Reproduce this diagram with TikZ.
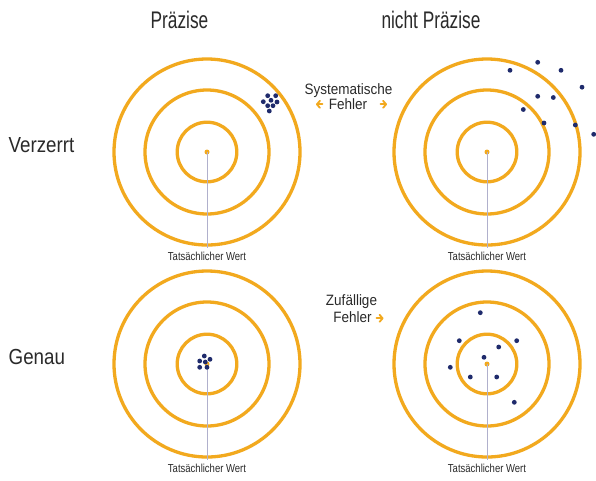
\documentclass[tikz,border=0pt]{standalone}
\usepackage{fontspec}
\setmainfont{Liberation Sans}
\newfontfamily\headfont{Liberation Sans}[FakeStretch=0.72]
\newfontfamily\sidefont{Liberation Sans}[FakeStretch=0.86]
\newfontfamily\errfont{Liberation Sans}[FakeStretch=0.9]
\newfontfamily\valfont{Liberation Sans}[FakeStretch=0.82]
\usetikzlibrary{arrows.meta}
\definecolor{ringc}{HTML}{F2A91E}
\definecolor{dotc}{HTML}{1F2B6C}
\definecolor{linec}{HTML}{B0B0CC}
\definecolor{txtc}{HTML}{2A2A2A}
\tikzset{
  ring/.style={draw=ringc, line width=3.3pt},
  truedot/.style={circle, fill=ringc, inner sep=0pt, minimum size=5pt},
  hit/.style={fill=dotc},
  valline/.style={draw=linec, line width=0.8pt},
  vallabel/.style={anchor=base, inner sep=0pt, text=txtc, font=\valfont\fontsize{11.6}{13}\selectfont},
  heading/.style={anchor=base, inner sep=0pt, text=txtc, font=\headfont\fontsize{24}{28}\selectfont},
  sidelabel/.style={anchor=base west, inner sep=0pt, text=txtc, font=\sidefont\fontsize{21.8}{26}\selectfont},
  errlabel/.style={anchor=base, inner sep=0pt, text=txtc, font=\errfont\fontsize{15}{18}\selectfont},
  errarrow/.style={draw=ringc, line width=1.8pt, line cap=round, -{Straight Barb[length=3pt, width=7pt, line width=1.8pt, round]}},
}
\begin{document}
\begin{tikzpicture}[x=1pt, y=-1pt]
\fill[white] (0,0) rectangle (596,480);
\useasboundingbox (0,0) rectangle (596,480);

% headings
\node[heading] (hprec) at (179.5,28) {Präzise};
\node[heading] (hnprec) at (431,28) {nicht Präzise};
\node[sidelabel] (lverz) at (8.5,152.3) {Verzerrt};
\node[sidelabel] (lgen) at (8.5,364) {Genau};

% targets
\foreach \n/\cx/\cy in {tl/207/152, tr/487/152, bl/207/364, br/487/364}{
  \draw[ring] (\cx,\cy) circle[radius=93pt];
  \draw[ring] (\cx,\cy) circle[radius=62pt];
  \draw[ring] (\cx,\cy) circle[radius=29.8pt];
}
\node[truedot] (ctl) at (207,152) {};
\node[truedot] (ctr) at (487,152) {};
\node[truedot] (cbl) at (207,364) {};
\node[truedot] (cbr) at (487,364) {};

\node[vallabel] (vtl) at (207,260) {Tatsächlicher Wert};
\node[vallabel] (vtr) at (487,260) {Tatsächlicher Wert};
\node[vallabel] (vbl) at (207,472) {Tatsächlicher Wert};
\node[vallabel] (vbr) at (487,472) {Tatsächlicher Wert};
\draw[valline] (ctl.center) -- ([yshift=3pt]vtl.north);
\draw[valline] (ctr.center) -- ([yshift=3pt]vtr.north);
\draw[valline] (cbl.center) -- ([yshift=3pt]vbl.north);
\draw[valline] (cbr.center) -- ([yshift=3pt]vbr.north);

% hits: biased, precise
\foreach \x/\y in {267.7/95.7, 275.7/95.7, 263.3/101.7, 271/100.3, 277/102, 267.7/105.7, 273/105.7, 269.3/111}
  \fill[hit] (\x,\y) circle[radius=2.4pt];
% hits: biased, not precise
\foreach \x/\y in {537.7/62.3, 510/70.3, 561/70.3, 582/87.2, 537.7/96.3, 553.3/97.5, 523.3/109.5, 544/123, 575.3/125, 593.7/134.3}
  \fill[hit] (\x,\y) circle[radius=2.4pt];
% hits: accurate, precise
\foreach \x/\y in {204.3/356, 210/359.3, 199.7/361, 205.3/362, 199.7/367.3, 207/367.3}
  \fill[hit] (\x,\y) circle[radius=2.4pt];
% hits: accurate, not precise
\foreach \x/\y in {480.3/312.7, 459.3/340.7, 516.7/340.7, 498.7/347, 484/357.3, 450.3/367.3, 470.3/377, 496.7/377, 514.3/402.3}
  \fill[hit] (\x,\y) circle[radius=2.4pt];

% error labels
\node[errlabel] (sys1) at (348.5,94) {Systematische};
\node[errlabel] (sys2) at (348,109.5) {Fehler};
\coordinate (sl1) at (322.5,104.3);
\coordinate (sl2) at (316,104.3);
\coordinate (sr1) at (380.5,104.3);
\coordinate (sr2) at (387,104.3);
\draw[errarrow] (sl1) -- (sl2);
\draw[errarrow] (sr1) -- (sr2);

\node[errlabel] (zuf1) at (351.5,305.5) {Zufällige};
\node[errlabel] (zuf2) at (352.5,322) {Fehler};
\coordinate (zr1) at (376.5,318.3);
\coordinate (zr2) at (383.5,318.3);
\draw[errarrow] (zr1) -- (zr2);
\end{tikzpicture}
\end{document}
